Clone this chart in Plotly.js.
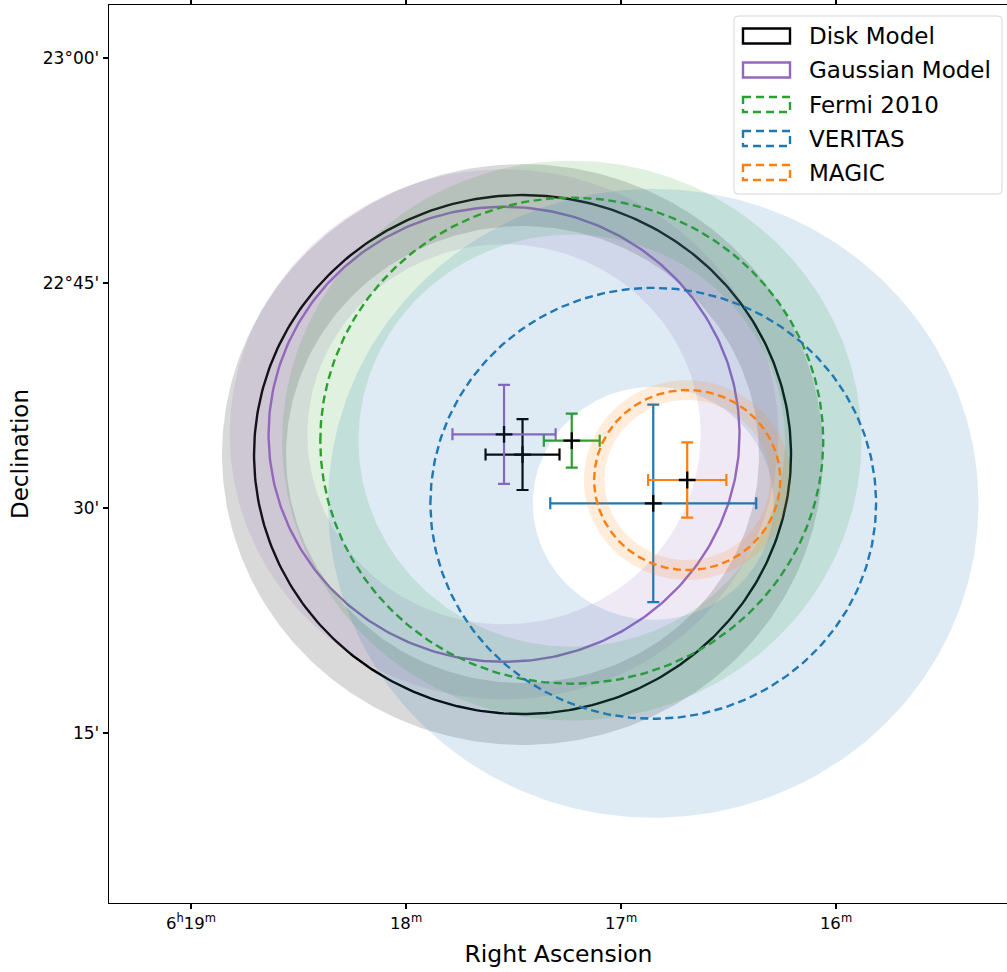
<!DOCTYPE html>
<html><head><meta charset="utf-8">
<script src="https://cdn.plot.ly/plotly-3.0.1.min.js"></script>
<style>html,body{margin:0;padding:0;overflow:hidden;background:#fff}</style>
</head><body><div id="chart" style="width:1010px;height:972px"></div>
<script>
// ---- data (RA in minutes after 6h, Dec in degrees) ----
const sources   = ['Disk Model', 'Gaussian Model', 'Fermi 2010', 'VERITAS', 'MAGIC'];
const raCenter  = [17.458, 17.544, 17.229, 16.850, 16.692];
const decCenter = [22.5594, 22.5819, 22.5748, 22.5052, 22.5311];
const raErr     = [0.172, 0.240, 0.130, 0.479, 0.182];
const decErr    = [0.0394, 0.055, 0.030, 0.1097, 0.0419];
const radius    = [0.2883, 0.2528, 0.270, 0.2394, 0.100];
const radiusErr = [0.0344, 0.0417, 0.041, 0.110, 0.011];
const colors    = ['#000000', '#9467bd', '#2ca02c', '#1f77b4', '#ff7f0e'];
const fills     = ['rgba(0,0,0,0.15)', 'rgba(148,103,189,0.15)', 'rgba(44,160,44,0.15)', 'rgba(31,119,180,0.15)', 'rgba(255,127,14,0.15)'];
const dashes    = ['solid', 'solid', '8px,4.5px', '8px,4.5px', '8px,4.5px'];
const xTickVals = [19, 18, 17, 16];
const xTickText = ['6<sup>h</sup>19<sup>m</sup>', '18<sup>m</sup>', '17<sup>m</sup>', '16<sup>m</sup>'];
const yTickVals = [23.0, 22.75, 22.5, 22.25];
const yTickText = ["23°00'", "22°45'", "30'", "15'"];

function ring(ra0, dec0, r, reverse) {
  const xs = [], ys = [], N = 360;
  const k = 0.25 * Math.cos(dec0 * Math.PI / 180);
  for (let i = 0; i <= N; i++) {
    const t = (reverse ? (N - i) : i) / N * 2 * Math.PI;
    xs.push(ra0 + r * Math.cos(t) / k);
    ys.push(dec0 + r * Math.sin(t));
  }
  return [xs, ys];
}

const traces = [];
for (let i = 0; i < sources.length; i++) {
  const o = ring(raCenter[i], decCenter[i], radius[i] + radiusErr[i], false);
  const n = ring(raCenter[i], decCenter[i], radius[i] - radiusErr[i], true);
  traces.push({type: 'scatter', mode: 'lines', x: o[0].concat([null], n[0]), y: o[1].concat([null], n[1]),
    fill: 'toself', fillcolor: fills[i], line: {width: 0}, hoverinfo: 'skip', showlegend: false});
  const c = ring(raCenter[i], decCenter[i], radius[i], false);
  traces.push({type: 'scatter', mode: 'lines', x: c[0], y: c[1],
    line: {color: colors[i], width: 2.4, dash: dashes[i]}, hoverinfo: 'skip', showlegend: false});
  traces.push({type: 'scatter', mode: 'markers', x: [raCenter[i]], y: [decCenter[i]],
    marker: {symbol: 'cross-thin', size: 12, color: 'black', line: {color: 'black', width: 2.3}},
    error_x: {type: 'data', array: [raErr[i]], color: colors[i], thickness: 2.2, width: 6},
    error_y: {type: 'data', array: [decErr[i]], color: colors[i], thickness: 2.2, width: 6},
    name: sources[i], showlegend: false});
}

// pixel -> paper helpers for the legend box
const L = 109, R = 1008, T = 5, B = 903;
const px = v => (v - L) / (R - L);
const py = v => (B - v) / (B - T);
const shapes = [];
const annotations = [];
(function () {
  const x0 = 734, x1 = 1002, y0 = 16, y1 = 194, r = 4;
  const d = 'M' + px(x0 + r) + ',' + py(y0) + ' L' + px(x1 - r) + ',' + py(y0) +
    ' Q' + px(x1) + ',' + py(y0) + ' ' + px(x1) + ',' + py(y0 + r) +
    ' L' + px(x1) + ',' + py(y1 - r) + ' Q' + px(x1) + ',' + py(y1) + ' ' + px(x1 - r) + ',' + py(y1) +
    ' L' + px(x0 + r) + ',' + py(y1) + ' Q' + px(x0) + ',' + py(y1) + ' ' + px(x0) + ',' + py(y1 - r) +
    ' L' + px(x0) + ',' + py(y0 + r) + ' Q' + px(x0) + ',' + py(y0) + ' ' + px(x0 + r) + ',' + py(y0) + ' Z';
  shapes.push({type: 'path', xref: 'paper', yref: 'paper', path: d,
    fillcolor: 'rgba(255,255,255,0.8)', line: {color: 'rgba(204,204,204,0.8)', width: 1}});
})();
const legendY = [36, 70, 104.5, 138.5, 172.5];
for (let i = 0; i < sources.length; i++) {
  shapes.push({type: 'rect', xref: 'paper', yref: 'paper',
    x0: px(743), x1: px(790), y0: py(legendY[i] - 7.5), y1: py(legendY[i] + 7.5),
    line: {color: colors[i], width: 2.4, dash: i < 2 ? 'solid' : '8px,5px'}, fillcolor: 'rgba(0,0,0,0)'});
  annotations.push({xref: 'paper', yref: 'paper', x: px(807), y: py(legendY[i]), xanchor: 'left', yanchor: 'middle',
    text: sources[i], showarrow: false, font: {size: 23, color: 'black'}});
}

const layout = {
  width: 1010, height: 972,
  margin: {l: L, r: 1010 - R, t: T, b: 972 - B},
  paper_bgcolor: 'white', plot_bgcolor: 'white',
  font: {family: 'DejaVu Sans', color: 'black'},
  showlegend: false,
  xaxis: {range: [19 + (191 - L) / 215, 16 - (R - 836) / 215], tickvals: xTickVals, ticktext: xTickText,
    ticks: 'outside', ticklen: 5, tickwidth: 1.4, tickcolor: 'black', showgrid: false, zeroline: false,
    showline: true, linecolor: 'black', linewidth: 1.4, mirror: 'ticks', tickfont: {size: 16.5},
    title: {text: 'Right Ascension', font: {size: 23.5}, standoff: 13}},
  yaxis: {range: [22.25 - (B - 733) / 900, 23 + (58 - T) / 900], tickvals: yTickVals, ticktext: yTickText,
    ticks: 'outside', ticklen: 5, tickwidth: 1.4, tickcolor: 'black', showgrid: false, zeroline: false,
    showline: true, linecolor: 'black', linewidth: 1.4, mirror: 'ticks', tickfont: {size: 17},
    title: {text: 'Declination', font: {size: 23}, standoff: 7}},
  shapes: shapes, annotations: annotations
};
Plotly.newPlot('chart', traces, layout, {displayModeBar: false, staticPlot: true});
</script></body></html>
